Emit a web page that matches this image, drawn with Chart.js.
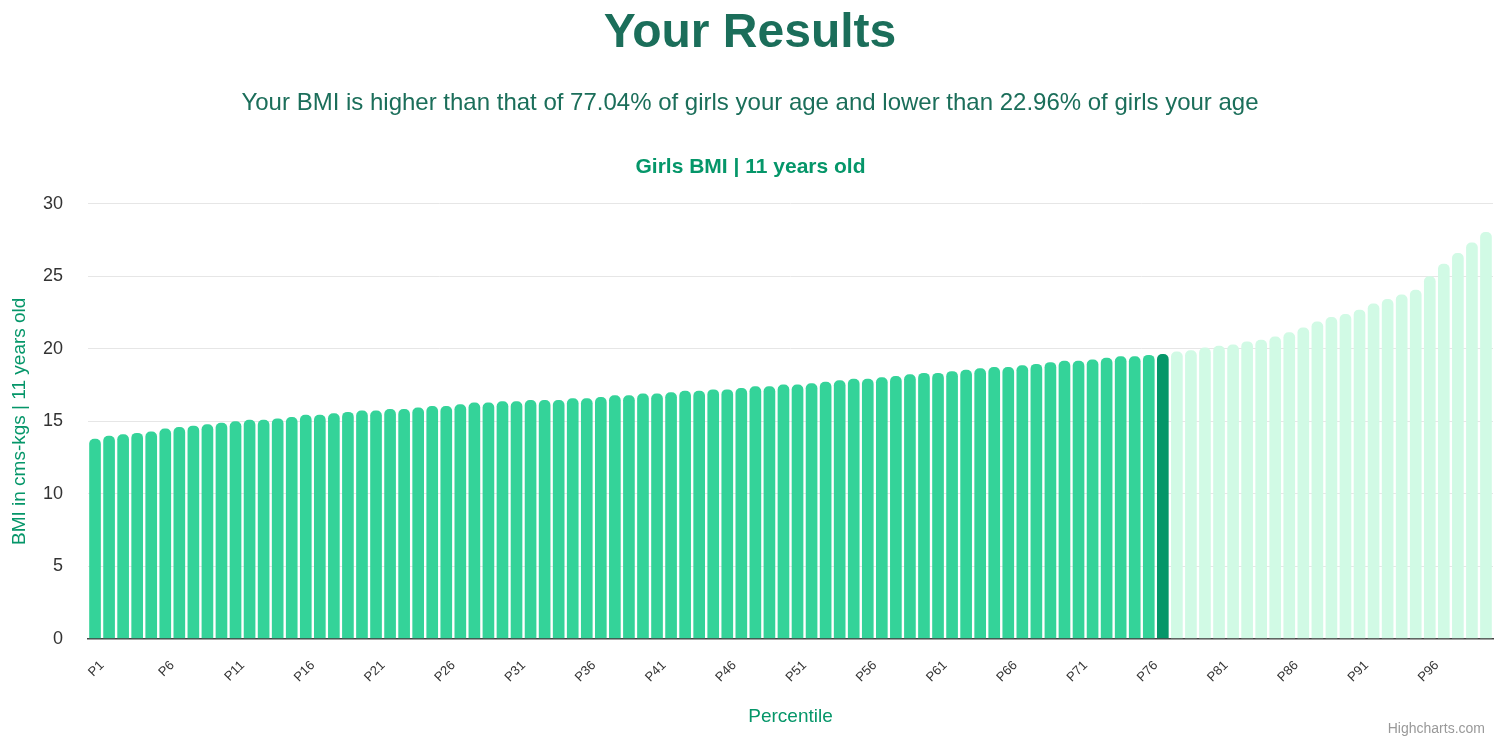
<!DOCTYPE html>
<html>
<head>
<meta charset="utf-8">
<title>Your Results</title>
<script src="https://cdn.jsdelivr.net/npm/chart.js@4.4.1/dist/chart.umd.min.js"></script>
<style>
  body { margin: 0; background: #fff; font-family: 'Liberation Sans', Arial, sans-serif; }
  #wrap { position: relative; width: 1500px; height: 742px; }
  #wrap canvas { position: absolute; left: 0; top: 0; }
  .heading { position: absolute; left: 0; width: 1500px; text-align: center; color: #1b6e5a; margin: 0; }
  #h1 { top: 7px; font-size: 48px; line-height: 48px; font-weight: bold; }
  #sub { top: 90px; font-size: 24px; line-height: 24px; }
  #credit { position: absolute; right: 15px; top: 720px; font-size: 14px; color: #999; }
</style>
</head>
<body>
<div id="wrap">
  <canvas id="grafico"></canvas>
  <h1 class="heading" id="h1">Your Results</h1>
  <p class="heading" id="sub">Your BMI is higher than that of 77.04% of girls your age and lower than 22.96% of girls your age</p>
  <div id="credit">Highcharts.com</div>
</div>
<script>
// percentil da menina (barra escura)
const percentilAtual = 77

const percentis = []
for (let i = 1; i <= 100; i++) percentis.push('P' + i)

// BMI por percentil
const bmi = [
  13.8, 14.0, 14.1, 14.2, 14.3, 14.5, 14.6, 14.7, 14.8, 14.9,
  15.0, 15.1, 15.1, 15.2, 15.3, 15.45, 15.45, 15.55, 15.65, 15.75,
  15.75, 15.85, 15.85, 15.95, 16.05, 16.05, 16.17, 16.29, 16.29, 16.38,
  16.38, 16.47, 16.47, 16.47, 16.59, 16.59, 16.68, 16.8, 16.8, 16.91,
  16.91, 17.0, 17.1, 17.1, 17.2, 17.2, 17.3, 17.42, 17.42, 17.54,
  17.54, 17.62, 17.72, 17.83, 17.93, 17.93, 18.04, 18.13, 18.25, 18.34,
  18.34, 18.46, 18.55, 18.66, 18.75, 18.75, 18.87, 18.96, 19.08, 19.17,
  19.17, 19.26, 19.38, 19.49, 19.49, 19.58, 19.64, 19.82, 19.9, 20.09,
  20.21, 20.3, 20.51, 20.63, 20.84, 21.14, 21.47, 21.88, 22.19, 22.4,
  22.7, 23.12, 23.44, 23.74, 24.07, 25.0, 25.86, 26.6, 27.33, 28.05
]

const corAbaixo = '#34d399'
const corAtual = '#059669'
const corAcima = '#d1fae5'

const cores = percentis.map(function (p, i) {
  if (i + 1 < percentilAtual) return corAbaixo
  if (i + 1 === percentilAtual) return corAtual
  return corAcima
})

Chart.defaults.font.family = "'Liberation Sans', Arial, sans-serif"

const ctx = document.getElementById('grafico').getContext('2d')

let grafico = new Chart(ctx, {
  type: 'bar',
  data: {
    labels: percentis,
    datasets: [{
      label: 'BMI',
      data: bmi,
      backgroundColor: cores,
      borderRadius: 5,
      borderSkipped: 'start',
      categoryPercentage: 1,
      barPercentage: 0.83
    }]
  },
  options: {
    responsive: true,
    maintainAspectRatio: false,
    animation: false,
    layout: {
      padding: { top: 150, left: 8, right: 7, bottom: 14 }
    },
    plugins: {
      legend: { display: false },
      tooltip: { enabled: false },
      title: {
        display: true,
        text: 'Girls BMI | 11 years old',
        color: '#059669',
        font: { size: 21, weight: 'bold' },
        padding: { top: 5, bottom: 23.6 }
      }
    },
    scales: {
      x: {
        grid: { display: false, drawTicks: false },
        border: { color: '#444444', width: 1.5 },
        ticks: {
          autoSkip: false,
          minRotation: 45,
          maxRotation: 45,
          color: '#333333',
          font: { size: 13 },
          padding: 19,
          labelOffset: 7,
          callback: function (value, index) {
            return index % 5 === 0 ? this.getLabelForValue(value) : ''
          }
        },
        title: {
          display: true,
          text: 'Percentile',
          color: '#059669',
          font: { size: 19 },
          padding: { top: 1, bottom: 0 }
        },
        afterFit: function (escala) {
          escala.paddingRight = 0
        }
      },
      y: {
        min: 0,
        max: 30,
        grid: { color: '#e6e6e6', drawTicks: false },
        border: { display: false },
        ticks: {
          stepSize: 5,
          color: '#333333',
          font: { size: 18 },
          padding: 25
        },
        title: {
          display: true,
          text: 'BMI in cms-kgs | 11 years old',
          color: '#059669',
          font: { size: 19 },
          padding: { top: 0, bottom: 0 }
        },
        afterFit: function (escala) {
          escala.width = 80
        }
      }
    }
  }
})
</script>
</body>
</html>
